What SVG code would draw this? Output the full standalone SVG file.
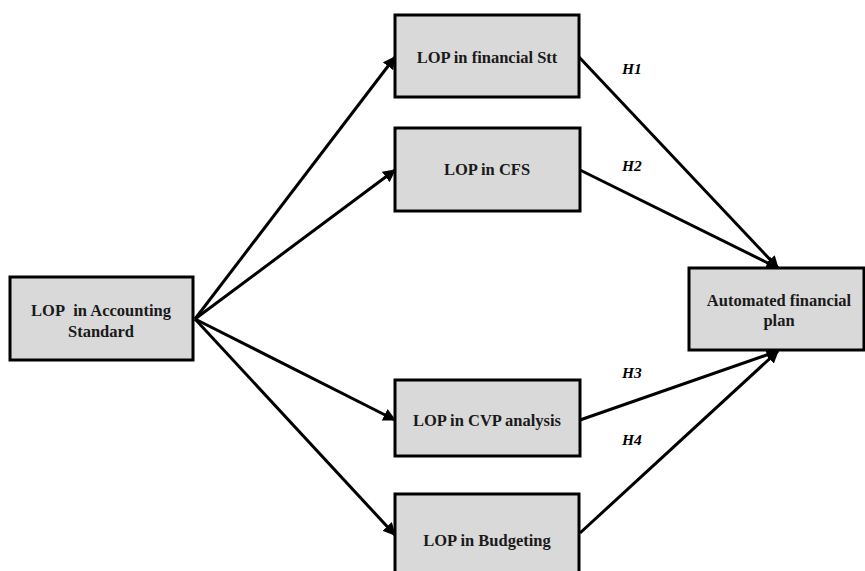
<svg xmlns="http://www.w3.org/2000/svg" width="865" height="571" viewBox="0 0 865 571">
<style>
.box{fill:#d9d9d9;stroke:#000;stroke-width:3}
.t{font-family:"Liberation Serif","Times New Roman",serif;font-weight:bold;font-size:16.5px;fill:#1a1a1a;text-anchor:middle}
.h{font-family:"Liberation Serif","Times New Roman",serif;font-weight:bold;font-style:italic;font-size:15.5px;fill:#000}
.c{stroke:#000;stroke-width:3;fill:none;marker-end:url(#ah)}
</style>
<defs>
<marker id="ah" viewBox="0 0 10 10" refX="9" refY="5" markerWidth="4.3" markerHeight="4.3" orient="auto" markerUnits="strokeWidth">
<path d="M0,0 L10,5 L0,10 z" fill="#000"/>
</marker>
</defs>
<rect width="865" height="571" fill="#fff"/>
<g id="connectors">
<line class="c" x1="195" y1="319" x2="395" y2="57"/>
<line class="c" x1="195" y1="319" x2="395" y2="170"/>
<line class="c" x1="195" y1="319" x2="395" y2="420"/>
<line class="c" x1="195" y1="319" x2="395" y2="535"/>
<line class="c" x1="579" y1="57" x2="778" y2="268"/>
<line class="c" x1="580" y1="170" x2="778" y2="268"/>
<line class="c" x1="580" y1="420" x2="778" y2="351"/>
<line class="c" x1="580" y1="533" x2="778" y2="351"/>
</g>
<g id="n-accounting">
<rect class="box" x="10" y="277" width="183" height="83"/>
<text class="t" x="101" y="316">LOP&#160; in Accounting</text>
<text class="t" x="101" y="337">Standard</text>
</g>
<g id="n-financial">
<rect class="box" x="395" y="15" width="184" height="82"/>
<text class="t" x="487" y="63">LOP in financial Stt</text>
</g>
<g id="n-cfs">
<rect class="box" x="395" y="128" width="185" height="83"/>
<text class="t" x="487" y="175">LOP in CFS</text>
</g>
<g id="n-cvp">
<rect class="box" x="395" y="380" width="185" height="76"/>
<text class="t" x="487" y="426">LOP in CVP analysis</text>
</g>
<g id="n-budgeting">
<rect class="box" x="395" y="494" width="184" height="90"/>
<text class="t" x="487" y="546">LOP in Budgeting</text>
</g>
<g id="n-automated">
<rect class="box" x="689" y="268" width="175" height="82"/>
<text class="t" x="779" y="306">Automated financial</text>
<text class="t" x="779" y="326">plan</text>
</g>
<g id="labels">
<text class="h" x="622" y="74">H1</text>
<text class="h" x="622" y="171">H2</text>
<text class="h" x="622" y="378">H3</text>
<text class="h" x="622" y="445">H4</text>
</g>
</svg>
